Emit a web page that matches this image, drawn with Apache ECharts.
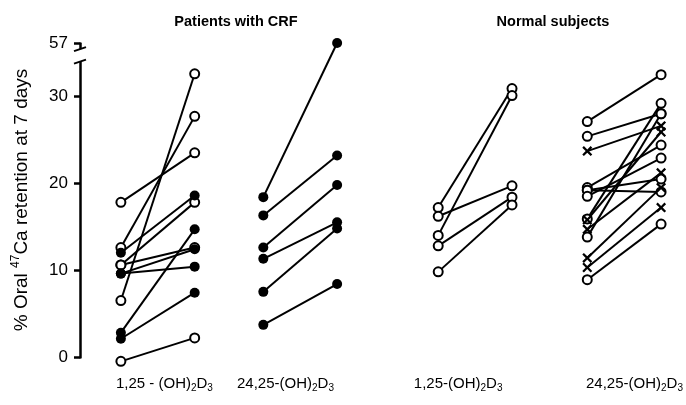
<!DOCTYPE html>
<html><head><meta charset="utf-8">
<script src="https://cdn.jsdelivr.net/npm/echarts@6/dist/echarts.min.js"></script>
<style>html,body{margin:0;padding:0;background:#fff}#c{width:686px;height:405px}</style>
</head><body><div id="c"></div>
<script>
// ---- categories / labels ----
const groupTitles = ['Patients with CRF', 'Normal subjects'];
const treatmentLabels = ['1,25 - (OH)_2D_3', '24,25-(OH)_2D_3', '1,25-(OH)_2D_3', '24,25-(OH)_2D_3'];
const yTickValues = [0, 10, 20, 30, 57];

// ---- data: % oral 47Ca retention, before -> after ----
// Patients with CRF, 1,25-(OH)2D3
const crf125OpenBefore   = [17.8, 6.5, 12.6, 10.6, 10.6, -0.5];
const crf125OpenAfter    = [23.5, 32.6, 27.7, 17.8, 12.6, 2.2];
const crf125FilledBefore = [12.0, 9.6, 9.6, 2.8, 2.1];
const crf125FilledAfter  = [18.6, 12.4, 10.4, 14.7, 7.4];
// Patients with CRF, 24,25-(OH)2D3
const crf2425FilledBefore = [18.4, 16.3, 12.6, 11.3, 7.5, 3.7];
const crf2425FilledAfter  = [57, 23.2, 19.8, 15.5, 14.8, 8.4];
// Normal subjects, 1,25-(OH)2D3
const ns125OpenBefore = [17.2, 16.2, 14.0, 12.8, 9.8];
const ns125OpenAfter  = [30.9, 19.7, 30.1, 18.4, 17.5];
// Normal subjects, 24,25-(OH)2D3
const ns2425OpenBefore  = [27.1, 25.4, 19.5, 19.2, 19.2, 18.5, 15.9, 13.8, 8.9];
const ns2425OpenAfter   = [32.5, 28.0, 24.4, 19.0, 20.5, 22.9, 29.2, 28.0, 15.3];
const ns2425CrossBefore = [23.7, 15.8, 14.7, 11.4, 10.3];
const ns2425CrossAfter  = [26.6, 25.9, 21.2, 19.5, 17.2];

// ---- layout ----
const GROUP_X = [0, 1.93, 4.30, 6.32];          // slot of each treatment group on x
const LABEL_X = [0.59, 2.23, 4.57, 6.96];       // where the treatment labels sit
const FONT = "'Liberation Sans', Arial, sans-serif";

const MARK = {
  open:   { symbol: 'circle', symbolSize: 9,  itemStyle: { color: '#fff', borderColor: '#000', borderWidth: 2, opacity: 1 } },
  filled: { symbol: 'circle', symbolSize: 10, itemStyle: { color: '#000', opacity: 1 } },
  cross:  { symbol: 'path://M0,1.6L1.6,0L5,3.4L8.4,0L10,1.6L6.6,5L10,8.4L8.4,10L5,6.6L1.6,10L0,8.4L3.4,5Z', symbolSize: 10, itemStyle: { color: '#000', opacity: 1 } }
};

const series = [];
function addGroup(g, before, after, kind) {
  const x0 = GROUP_X[g], x1 = GROUP_X[g] + 1;
  const pts = [];
  before.forEach((b, i) => {
    series.push({ type: 'line', data: [[x0, b], [x1, after[i]]], symbol: 'none', clip: false, silent: true,
      lineStyle: { color: '#000', width: 2 }, z: 2 });
    pts.push([x0, b], [x1, after[i]]);
  });
  series.push(Object.assign({ type: 'scatter', data: pts, clip: false, silent: true, z: 5 }, MARK[kind]));
}
addGroup(0, crf125OpenBefore, crf125OpenAfter, 'open');
addGroup(0, crf125FilledBefore, crf125FilledAfter, 'filled');
addGroup(1, crf2425FilledBefore, crf2425FilledAfter, 'filled');
addGroup(2, ns125OpenBefore, ns125OpenAfter, 'open');
addGroup(3, ns2425OpenBefore, ns2425OpenAfter, 'open');
addGroup(3, ns2425CrossBefore, ns2425CrossAfter, 'cross');

function richLabel(s) {
  return s.split(/(_\d)/).filter(t => t).map(t => t[0] === '_' ? '{s|' + t.slice(1) + '}' : '{n|' + t + '}').join('');
}

const titleGraphics = [
  { type: 'text', x: 236, y: 22, style: { text: groupTitles[0], font: 'bold 14.5px ' + FONT, fill: '#000', align: 'center', verticalAlign: 'middle' } },
  { type: 'text', x: 553, y: 22, style: { text: groupTitles[1], font: 'bold 14.5px ' + FONT, fill: '#000', align: 'center', verticalAlign: 'middle' } }
];

const chart = echarts.init(document.getElementById('c'), null, { renderer: 'canvas' });
chart.setOption({
  animation: false,
  backgroundColor: '#fff',
  grid: { left: 80, right: 0, top: 43, bottom: 48, containLabel: false },
  xAxis: {
    type: 'value', min: -0.554, max: 7.635,
    axisLine: { show: false }, axisTick: { show: false }, splitLine: { show: false },
    axisLabel: {
      customValues: LABEL_X, margin: 18, color: '#000',
      formatter: v => richLabel(treatmentLabels[LABEL_X.reduce((bi, x, i) => Math.abs(x - v) < Math.abs(LABEL_X[bi] - v) ? i : bi, 0)]),
      rich: {
        n: { fontSize: 15, fontFamily: FONT, color: '#000', lineHeight: 18 },
        s: { fontSize: 10, fontFamily: FONT, color: '#000', verticalAlign: 'bottom', lineHeight: 10 }
      }
    }
  },
  yAxis: {
    type: 'value', min: 0, max: 57,
    breaks: [{ start: 34, end: 56.3, gap: '4%' }],
    breakArea: { show: false },
    splitLine: { show: false },
    axisLine: { show: true, onZero: false, lineStyle: { color: '#000', width: 2.5 } },
    axisTick: { show: true, customValues: yTickValues, length: 6, lineStyle: { color: '#000', width: 2.5 } },
    axisLabel: { customValues: yTickValues, color: '#000', fontSize: 17, fontFamily: FONT, margin: 12 },
    name: '{a|% Oral }{sup|47}{a|Ca retention at 7 days}',
    nameLocation: 'middle', nameRotate: 90, nameGap: 46,
    nameTextStyle: {
      color: '#000', fontSize: 19, fontFamily: FONT,
      rich: {
        a: { fontSize: 19, fontFamily: FONT, color: '#000', lineHeight: 24 },
        sup: { fontSize: 12, fontFamily: FONT, color: '#000', verticalAlign: 'top', lineHeight: 13 }
      }
    }
  },
  graphic: titleGraphics,
  series: series
});

// axis break marks
const yA = chart.convertToPixel({ yAxisIndex: 0 }, 56.3);
const yB = chart.convertToPixel({ yAxisIndex: 0 }, 34);
const ax = chart.convertToPixel({ xAxisIndex: 0 }, -0.554);
chart.setOption({
  graphic: titleGraphics.concat([
    { type: 'rect', shape: { x: ax - 5, y: yA, width: 10, height: yB - yA }, style: { fill: '#fff' }, z: 100 },
    { type: 'line', shape: { x1: ax - 6, y1: yA + 2, x2: ax + 6, y2: yA - 2 }, style: { stroke: '#000', lineWidth: 2 }, z: 101 },
    { type: 'line', shape: { x1: ax - 6, y1: yB + 2, x2: ax + 6, y2: yB - 2 }, style: { stroke: '#000', lineWidth: 2 }, z: 101 }
  ])
});
</script>
</body></html>
